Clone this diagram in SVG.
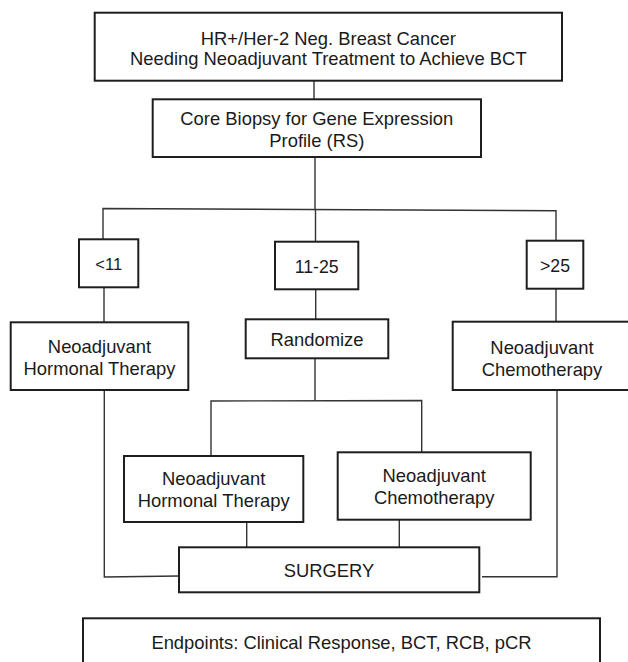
<svg xmlns="http://www.w3.org/2000/svg" width="628" height="662" viewBox="0 0 628 662">
<style>
.box{fill:#fff;stroke:#1e1e1e;stroke-width:2}
.t{font-family:"Liberation Sans",Arial,sans-serif;font-size:18.4px;fill:#1a1a1a;text-anchor:middle}
.c{fill:none;stroke:#333;stroke-width:1.4}
</style>
<rect width="628" height="662" fill="#fff"/>
<g id="connectors">
<line class="c" x1="314" y1="81" x2="314" y2="99"/>
<line class="c" x1="315" y1="157" x2="315" y2="209.5"/>
<polyline class="c" points="103,239.3 103,208.5 556,210.7 556,240.7"/>
<line class="c" x1="315.5" y1="209.5" x2="315.5" y2="241.7"/>
<line class="c" x1="104" y1="287.3" x2="104" y2="322.3"/>
<line class="c" x1="315.7" y1="289.3" x2="315.7" y2="319.3"/>
<line class="c" x1="556" y1="288.7" x2="556" y2="321.7"/>
<line class="c" x1="315" y1="358.3" x2="315" y2="400.7"/>
<polyline class="c" points="211,456 211,401 421.7,400.5 421.7,452.3"/>
<polyline class="c" points="104.3,390 104.3,577 179,576"/>
<polyline class="c" points="557,390 557,576.7 482,576.7"/>
<line class="c" x1="246.7" y1="522" x2="246.7" y2="547.3"/>
<line class="c" x1="399.3" y1="519.7" x2="399.3" y2="547.3"/>
</g>
<g id="node-top">
<rect class="box" x="94.7" y="12.7" width="467.3" height="68"/>
<text class="t" x="328.3" y="44.5">HR+/Her-2 Neg. Breast Cancer</text>
<text class="t" x="328.3" y="64.5">Needing Neoadjuvant Treatment to Achieve BCT</text>
</g>
<g id="node-core">
<rect class="box" x="152.7" y="99.3" width="328.3" height="57.7"/>
<text class="t" x="316.8" y="124.5">Core Biopsy for Gene Expression</text>
<text class="t" x="316.8" y="146.5">Profile (RS)</text>
</g>
<g id="node-lt11">
<rect class="box" x="79" y="239.3" width="59.3" height="48"/>
<text class="t" x="108.7" y="270" style="font-size:16.5px">&lt;11</text>
</g>
<g id="node-11-25">
<rect class="box" x="275" y="241.7" width="83.3" height="47.6"/>
<text class="t" x="316.7" y="273.3" style="font-size:17.7px">11-25</text>
</g>
<g id="node-gt25">
<rect class="box" x="526.7" y="240.7" width="56.6" height="48"/>
<text class="t" x="555" y="271.7" style="font-size:17.7px">&gt;25</text>
</g>
<g id="node-left-hormonal">
<rect class="box" x="10.7" y="322.3" width="177.6" height="67.7"/>
<text class="t" x="99.5" y="353.3">Neoadjuvant</text>
<text class="t" x="99.5" y="375">Hormonal Therapy</text>
</g>
<g id="node-randomize">
<rect class="box" x="245.7" y="319.3" width="142.6" height="39"/>
<text class="t" x="317" y="346">Randomize</text>
</g>
<g id="node-right-chemo">
<rect class="box" x="452.7" y="321.7" width="180" height="68.3"/>
<text class="t" x="542" y="354">Neoadjuvant</text>
<text class="t" x="542" y="375.5">Chemotherapy</text>
</g>
<g id="node-mid-hormonal">
<rect class="box" x="124" y="456" width="179.3" height="66"/>
<text class="t" x="213.7" y="485">Neoadjuvant</text>
<text class="t" x="213.7" y="506.7">Hormonal Therapy</text>
</g>
<g id="node-mid-chemo">
<rect class="box" x="337.7" y="452.3" width="193" height="67.4"/>
<text class="t" x="434.2" y="482.3">Neoadjuvant</text>
<text class="t" x="434.2" y="504">Chemotherapy</text>
</g>
<g id="node-surgery">
<rect class="box" x="179" y="547.3" width="300.3" height="45"/>
<text class="t" x="329" y="576.5">SURGERY</text>
</g>
<g id="node-endpoints">
<rect class="box" x="83" y="618.3" width="517" height="60"/>
<text class="t" x="341.5" y="649">Endpoints: Clinical Response, BCT, RCB, pCR</text>
</g>
</svg>
